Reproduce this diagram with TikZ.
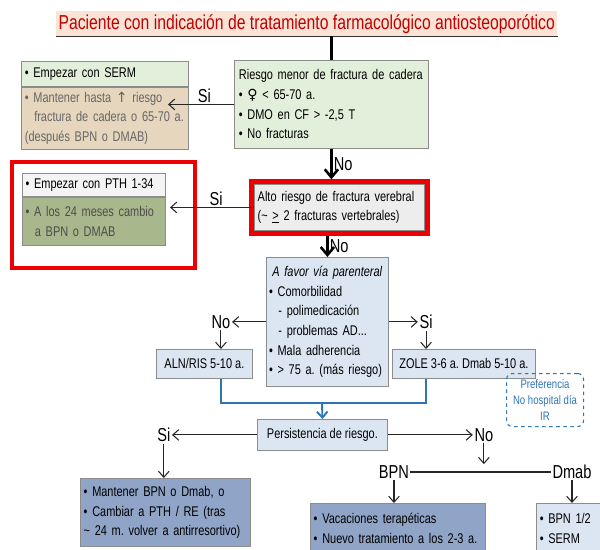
\documentclass[tikz,border=0pt]{standalone}
\usepackage{fontspec}
\setmainfont[FakeStretch=0.78]{Liberation Sans}
\newfontfamily\symfont{DejaVu Sans}
\usepackage{tikz}
\usetikzlibrary{
  positioning,
  arrows.meta,
  fit
}
\frenchspacing
\definecolor{titlebg}{HTML}{FBE3D6}
\definecolor{titlered}{HTML}{C00000}
\definecolor{boxgreen}{HTML}{E2EFDA}
\definecolor{boxtan}{HTML}{E6D6BD}
\definecolor{boxgray}{HTML}{EDEDED}
\definecolor{boxwhite}{HTML}{F4F4F4}
\definecolor{boxolive}{HTML}{A9B88C}
\definecolor{boxblue}{HTML}{DCE6F2}
\definecolor{boxslate}{HTML}{8FA4C6}
\definecolor{linkblue}{HTML}{2E75B6}
\definecolor{framered}{HTML}{EE0000}
\tikzset{>={Straight Barb[length=1.8mm,width=3.2mm]}}
\tikzset{
  box/.style={draw=black!45, line width=0.7pt, inner sep=0pt, align=left,
    anchor=north west, font=\fontsize{12}{16.8}\selectfont},
  lbl/.style={font=\fontsize{16}{18}\selectfont, inner sep=1pt},
  arr/.style={->, line width=0.9pt, draw=black!85},
  trunk/.style={->, line width=2.2pt, >={Straight Barb[length=2.4mm,width=4mm]}},
  redframe/.style={draw=framered, line width=4pt},
  bluelink/.style={draw=linkblue, line width=1pt}
}

\begin{document}
\begin{tikzpicture}[x=0.03cm,y=-0.03cm]
\useasboundingbox (0,0) rectangle (600,549);

\node[fill=titlebg, text=titlered, minimum width=15.03cm, minimum height=0.75cm,
  inner sep=0pt, anchor=north west, font=\fontsize{17.2}{19}\selectfont] (title) at (56,11)
  {Paciente con indicación de tratamiento farmacológico antiosteoporótico};
\draw[line width=1.6pt, black!80] (title.south west) -- (title.south east);

% riesgo menor de fractura de cadera
\node[box, fill=boxgreen, minimum width=5.82cm, minimum height=2.64cm, text width=5.55cm] (riesgo) at (234,60)
  {Riesgo menor de fractura de cadera\\ \textbullet\ {\symfont ♀} < 65-70 a.\\ \textbullet\ DMO en CF > -2,5 T\\ \textbullet\ No fracturas};
\draw[line width=2.2pt] (riesgo.north |- title.south) -- (riesgo.north);

\node[box, fill=boxgreen, minimum width=5.01cm, minimum height=0.75cm, text width=4.8cm] (sermtop) at (21,61)
  {\textbullet\ Empezar con SERM};
\node[box, fill=boxtan, text=black!60, minimum width=5.01cm, minimum height=1.86cm, text width=4.8cm,
  below=0pt of sermtop] (sermbot)
  {\textbullet\ Mantener hasta {\symfont ↑} riesgo\\ \ \ fractura de cadera o 65-70 a.\\ (después BPN o DMAB)};
\draw[arr] (riesgo.west) -- ++(-66,0) node[pos=0.45, above, lbl] {Si};

% alto riesgo
\node[box, fill=boxgray, minimum width=5.1cm, minimum height=1.38cm, text width=4.9cm] (alto) at (254,184)
  {Alto riesgo de fractura verebral\\(\textasciitilde\ \underline{>} 2 fracturas vertebrales)};
\node[redframe, fit=(alto), inner sep=2pt] (altoframe) {};
\draw[trunk] (riesgo.south) -- (riesgo.south |- altoframe.north) node[midway, right, lbl] {No};

\draw[redframe] (12,162) rectangle (195,268);
\node[box, fill=boxwhite, minimum width=4.29cm, minimum height=0.69cm, text width=4.1cm] (pthtop) at (22,173)
  {\textbullet\ Empezar con PTH 1-34};
\node[box, fill=boxolive, text=black!70, minimum width=4.29cm, minimum height=1.44cm, text width=4.1cm,
  below=0pt of pthtop] (pthbot)
  {\textbullet\ A los 24 meses cambio\\ \ \ a BPN o DMAB};
\draw[arr] (alto.west) -- ++(-84,0) node[pos=0.45, above, lbl] {Si};

% via parenteral
\node[box, fill=boxblue, minimum width=3.66cm, minimum height=3.87cm, text width=3.5cm] (afavor) at (266,257)
  {\hspace*{0.1cm}\textit{A favor vía parenteral}\\ \textbullet\ Comorbilidad\\ \ \ - polimedicación\\
   \ \ - problemas AD...\\ \textbullet\ Mala adherencia\\ \textbullet\ > 75 a. (más riesgo)};
\draw[trunk] (afavor.north |- altoframe.south) -- (afavor.north) node[midway, right, lbl] {No};

\draw[arr] (afavor.west) -- ++(-34,0) node[left, lbl] (no3) {No};
\node[box, fill=boxblue, minimum width=2.88cm, minimum height=0.87cm, align=center] (aln) at (156,349)
  {ALN/RIS 5-10 a.};
\draw[arr] (no3.south) -- (no3.south |- aln.north);

\draw[arr] (afavor.east) -- ++(29,0) node[right, lbl] (si3) {Si};
\node[box, fill=boxblue, minimum width=4.29cm, minimum height=0.87cm, align=center] (zole) at (392,349)
  {ZOLE 3-6 a. Dmab 5-10 a.};
\draw[arr] (si3.south) -- (si3.south |- zole.north);
\node[draw=linkblue, dashed, rounded corners=5pt, text=linkblue, line width=0.9pt, align=center,
  anchor=north west, minimum width=2.31cm, minimum height=1.59cm, inner sep=0pt,
  font=\fontsize{10.5}{13.5}\selectfont] (pref) at (506,373) {Preferencia\\No hospital día\\IR};

% persistencia
\node[box, fill=boxblue, minimum width=3.9cm, minimum height=0.93cm, align=center] (persist) at (257,419)
  {Persistencia de riesgo.};
\coordinate (merge) at (322,403);
\draw[bluelink] (no3.south |- aln.south) |- (merge) -| (si3.south |- zole.south);
\draw[bluelink, ->, line width=1.6pt] (merge) -- (persist.north);

\draw[arr] (persist.west) -- ++(-85,0) node[left, lbl] (si4) {Si};
\node[box, fill=boxslate, minimum width=5.1cm, minimum height=2.04cm, text width=4.9cm] (mantener) at (80,478)
  {\textbullet\ Mantener BPN o Dmab, o\\ \textbullet\ Cambiar a PTH / RE (tras\\ \textasciitilde\ 24 m. volver a antirresortivo)};
\draw[arr] (si4.south) -- (si4.south |- mantener.north);

\draw[arr] (persist.east) -- ++(85,0) node[right, lbl] (no4) {No};
\node[lbl] (bpn) at (394,472) {BPN};
\node[lbl] (dmab) at (572,472) {Dmab};
\draw[line width=0.9pt, black!85] (bpn) -- (dmab);
\draw[arr] (no4.south) -- (no4.south |- bpn.north);

\node[box, fill=boxslate, minimum width=5.25cm, minimum height=1.5cm, text width=5.05cm] (vacaciones) at (310,503)
  {\textbullet\ Vacaciones terapéticas\\ \textbullet\ Nuevo tratamiento a los 2-3 a.};
\draw[arr] (bpn.south) -- (bpn.south |- vacaciones.north);

\node[box, fill=boxblue, minimum width=2.1cm, minimum height=1.5cm, text width=1.9cm] (bpnserm) at (536,503)
  {\textbullet\ BPN 1/2\\ \textbullet\ SERM};
\draw[arr] (dmab.south) -- (dmab.south |- bpnserm.north);
\end{tikzpicture}
\end{document}
